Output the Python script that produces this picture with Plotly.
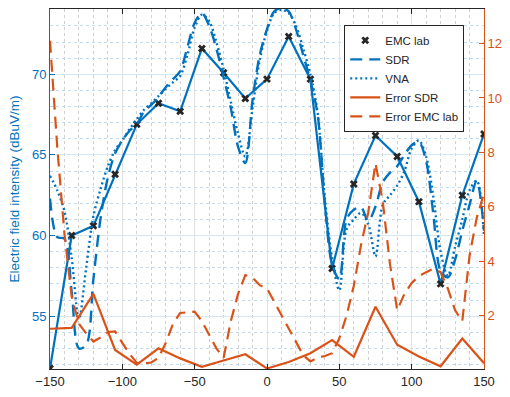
import plotly.graph_objects as go

# ---------------- data ----------------
angle_emc = [-150, -135, -120, -105, -90, -75, -60, -45, -30, -15, 0,
             15, 30, 45, 60, 75, 90, 105, 120, 135, 150]
emc_lab = [51.75, 60.0, 60.6, 63.8, 66.9, 68.2, 67.7, 71.6, 70.1, 68.5, 69.7,
           72.35, 69.7, 57.95, 63.2, 66.2, 64.9, 62.1, 57.0, 62.5, 66.3]
error_sdr = [1.52, 1.55, 2.8, 0.74, 0.2, 0.8, 0.43, 0.12, 0.35, 0.58, 0.06,
             0.3, 0.62, 1.1, 0.49, 2.33, 0.93, 0.5, 0.14, 1.16, 0.25]

angle_fine = [-150, -145, -140, -135, -130, -125, -120, -115, -110, -105,
              -100, -95, -90, -85, -80, -75, -70, -65, -60, -55,
              -50, -45, -40, -35, -30, -25, -20, -15, -10, -5,
              0, 5, 10, 15, 20, 25, 30, 35, 40, 45,
              50, 55, 60, 65, 70, 75, 80, 85, 90, 95,
              100, 105, 110, 115, 120, 125, 130, 135, 140, 145, 150]
sdr = [62.3, 59.9, 59.8, 56.5, 53.0, 53.2, 57.3, 61.1, 63.6, 65.1,
       65.9, 66.5, 66.9, 67.7, 68.1, 68.6, 69.2, 69.7, 70.2, 71.7,
       73.2, 73.8, 73.0, 71.6, 69.8, 67.9, 65.5, 64.5, 68.4, 71.2,
       72.8, 73.9, 74.1, 73.9, 72.8, 71.2, 69.6, 67.5, 62.0, 58.2,
       57.3, 61.0, 61.6, 61.75, 60.9, 61.8, 63.3, 63.9, 64.3, 65.0,
       65.6, 65.8, 64.6, 61.3, 57.8, 57.4, 58.5, 60.3, 61.9, 63.4, 60.3]
vna = [63.7, 62.8, 61.5, 58.6, 54.8, 58.0, 61.2, 62.9, 64.3, 65.3,
       65.9, 66.6, 67.2, 67.8, 68.2, 68.65, 69.1, 69.5, 69.9, 71.2,
       72.9, 73.7, 73.3, 72.0, 70.3, 68.3, 66.3, 64.9, 67.9, 70.9,
       72.7, 73.8, 74.0, 73.8, 73.0, 71.6, 70.0, 67.6, 62.3, 58.6,
       56.6, 60.4, 61.0, 61.4, 60.7, 58.7, 61.9, 62.5, 63.1, 64.0,
       65.4, 65.9, 64.9, 62.4, 59.0, 57.5, 59.3, 61.0, 62.8, 63.4, 60.0]
error_emc = [12.1, 8.2, 5.0, 2.7, 1.7, 1.35, 1.05, 1.2, 1.4, 1.42,
             1.0, 0.6, 0.26, 0.25, 0.28, 0.45, 1.0, 1.7, 2.1, 2.12,
             2.15, 1.8, 1.3, 0.8, 0.45, 1.8, 2.8, 3.49, 3.4, 3.12,
             3.0, 2.5, 2.0, 1.5, 1.0, 0.55, 0.32, 0.45, 0.52, 0.62,
             1.17, 2.0, 3.1, 4.6, 5.8, 7.6, 6.2, 3.9, 2.2, 2.8,
             3.2, 3.45, 3.6, 3.72, 3.6, 3.0, 2.2, 1.8, 4.2, 5.6, 6.5]

xticks = [-150, -100, -50, 0, 50, 100, 150]
yticks_left = [55, 60, 65, 70]
yticks_right = [2, 4, 6, 8, 10, 12]

BLUE = "#0072BD"
ORANGE = "#D95319"
DARK = "#262626"
FONT = "Liberation Sans, Arial, sans-serif"

fig = go.Figure()

fig.add_trace(go.Scatter(x=angle_emc, y=emc_lab, mode="lines",
                         line=dict(color=BLUE, width=2.2), showlegend=False,
                         hoverinfo="skip"))
fig.add_trace(go.Scatter(x=angle_emc, y=emc_lab, mode="markers", name="EMC lab",
                         marker=dict(symbol="x", size=7, color=DARK)))
fig.add_trace(go.Scatter(x=angle_fine, y=sdr, mode="lines", name="SDR",
                         line=dict(color=BLUE, width=2.4, dash="12px,7px",
                                   shape="spline", smoothing=0.9)))
fig.add_trace(go.Scatter(x=angle_fine, y=vna, mode="lines", name="VNA",
                         line=dict(color=BLUE, width=2.4, dash="2px,3px",
                                   shape="spline", smoothing=0.9)))
fig.add_trace(go.Scatter(x=angle_emc, y=error_sdr, mode="lines", name="Error SDR",
                         line=dict(color=ORANGE, width=2.2), yaxis="y2"))
fig.add_trace(go.Scatter(x=angle_fine, y=error_emc, mode="lines", name="Error EMC lab",
                         line=dict(color=ORANGE, width=2.2, dash="12px,7px"),
                         yaxis="y2"))

fig.update_layout(
    width=510, height=397,
    margin=dict(l=50, r=25, t=8, b=26),
    paper_bgcolor="white", plot_bgcolor="white",
    font=dict(family=FONT, size=13, color=DARK),
    xaxis=dict(range=[-150, 150], tickvals=xticks, ticks="inside", ticklen=5,
               tickcolor=DARK, showline=True, linecolor=DARK, linewidth=1,
               mirror="ticks", showgrid=True, gridcolor="#e2e2e2", gridwidth=1,
               zeroline=False, tickfont=dict(size=13, color=DARK),
               minor=dict(dtick=10, showgrid=True, gridcolor="#cfcfcf",
                          griddash="dot", gridwidth=1)),
    yaxis=dict(range=[51.72, 74.05], tickvals=yticks_left, ticks="inside", ticklen=5,
               tickcolor=BLUE, showline=True, linecolor=BLUE, linewidth=1,
               showgrid=True, gridcolor="#d7e7f3", gridwidth=1, zeroline=False,
               tickfont=dict(size=13, color=BLUE),
               title=dict(text="Electric field intensity (dBuV/m)",
                          font=dict(size=13.5, color=BLUE), standoff=9),
               minor=dict(dtick=1, showgrid=True, gridcolor="#c3dcee",
                          griddash="dot", gridwidth=1)),
    yaxis2=dict(range=[0.04, 13.27], tickvals=yticks_right, overlaying="y",
                side="right", ticks="inside", ticklen=5, tickcolor=ORANGE,
                showline=True, linecolor=ORANGE, linewidth=1, showgrid=False,
                zeroline=False, tickfont=dict(size=13, color=ORANGE)),
    legend=dict(x=0.678, y=0.956, xanchor="left", yanchor="top",
                bgcolor="white", bordercolor=DARK, borderwidth=1,
                font=dict(size=11.5, color=DARK), tracegroupgap=0),
)

fig.write_html("out.html", config={"displayModeBar": False},
               post_script="document.body.style.margin='0';document.body.style.padding='0';")
